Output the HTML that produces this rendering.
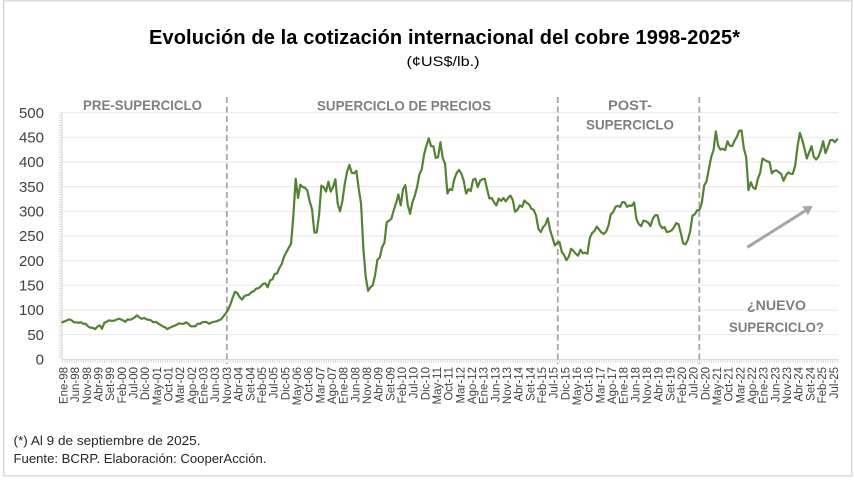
<!DOCTYPE html>
<html>
<head>
<meta charset="utf-8">
<style>
  html,body{margin:0;padding:0;background:#fff;}
  svg{display:block;}
  .yl{font-family:"Liberation Sans",sans-serif;font-size:15px;fill:#404040;text-anchor:end;}
  .xl{font-family:"Liberation Sans",sans-serif;font-size:11.5px;fill:#404040;text-anchor:end;}
  .sec{font-family:"Liberation Sans",sans-serif;font-size:14px;font-weight:bold;fill:#7f7f7f;}
</style>
</head>
<body>
<svg width="854" height="481" viewBox="0 0 854 481" xmlns="http://www.w3.org/2000/svg">
  <rect x="0" y="0" width="854" height="481" fill="#fff"/>
  <rect x="3.75" y="0.75" width="848" height="475" fill="#fff" stroke="#d9d9d9" stroke-width="1.5"/>

  <!-- Title -->
  <text x="149" y="44" textLength="591" lengthAdjust="spacing" font-family="Liberation Sans, sans-serif" font-size="20" font-weight="bold" fill="#000">Evolución de la cotización internacional del cobre 1998-2025*</text>
  <text x="406.5" y="66" textLength="73" lengthAdjust="spacingAndGlyphs" font-family="Liberation Sans, sans-serif" font-size="14" fill="#000">(¢US$/lb.)</text>

  <!-- Gridlines -->
  <g stroke="#ebebeb" stroke-width="1.2">
    <line x1="62" y1="112.6" x2="838.5" y2="112.6"/>
    <line x1="62" y1="137.3" x2="838.5" y2="137.3"/>
    <line x1="62" y1="162.0" x2="838.5" y2="162.0"/>
    <line x1="62" y1="186.6" x2="838.5" y2="186.6"/>
    <line x1="62" y1="211.3" x2="838.5" y2="211.3"/>
    <line x1="62" y1="236.0" x2="838.5" y2="236.0"/>
    <line x1="62" y1="260.6" x2="838.5" y2="260.6"/>
    <line x1="62" y1="285.3" x2="838.5" y2="285.3"/>
    <line x1="62" y1="310.0" x2="838.5" y2="310.0"/>
    <line x1="62" y1="334.6" x2="838.5" y2="334.6"/>
  </g>

  <!-- Axes -->
  <line x1="62" y1="112.6" x2="62" y2="359.5" stroke="#d9d9d9" stroke-width="1"/>
  <line x1="60.5" y1="112.6" x2="60.5" y2="359.5" stroke="#d9d9d9" stroke-width="3" stroke-dasharray="1 1.47"/>
  <line x1="62" y1="359.5" x2="838.5" y2="359.5" stroke="#d9d9d9" stroke-width="1"/>
  <line x1="62" y1="361.2" x2="838.5" y2="361.2" stroke="#d9d9d9" stroke-width="3" stroke-dasharray="1 1.334"/>

  <!-- Y labels -->
  <text class="yl" x="44" y="117.8">500</text>
  <text class="yl" x="44" y="142.5">450</text>
  <text class="yl" x="44" y="167.2">400</text>
  <text class="yl" x="44" y="191.8">350</text>
  <text class="yl" x="44" y="216.5">300</text>
  <text class="yl" x="44" y="241.2">250</text>
  <text class="yl" x="44" y="265.8">200</text>
  <text class="yl" x="44" y="290.5">150</text>
  <text class="yl" x="44" y="315.2">100</text>
  <text class="yl" x="44" y="339.8">50</text>
  <text class="yl" x="44" y="364.5">0</text>

  <!-- Dashed period separators -->
  <g stroke="#a6a6a6" stroke-width="1.8" stroke-dasharray="6 3.5">
    <line x1="226.8" y1="97" x2="226.8" y2="364"/>
    <line x1="557.8" y1="97" x2="557.8" y2="364"/>
    <line x1="699.3" y1="97" x2="699.3" y2="364"/>
  </g>

  <!-- Section labels -->
  <text class="sec" x="83" y="110" textLength="119" lengthAdjust="spacingAndGlyphs">PRE-SUPERCICLO</text>
  <text class="sec" x="317" y="110.5" textLength="174" lengthAdjust="spacingAndGlyphs">SUPERCICLO DE PRECIOS</text>
  <text class="sec" x="608" y="110" textLength="44" lengthAdjust="spacingAndGlyphs">POST-</text>
  <text class="sec" x="586" y="129.5" textLength="88" lengthAdjust="spacingAndGlyphs">SUPERCICLO</text>
  <text class="sec" x="747" y="310" textLength="59" lengthAdjust="spacingAndGlyphs">¿NUEVO</text>
  <text class="sec" x="729" y="332" textLength="95" lengthAdjust="spacingAndGlyphs">SUPERCICLO?</text>

  <!-- Arrow -->
  <line x1="747.3" y1="247.3" x2="806" y2="210.3" stroke="#a6a6a6" stroke-width="3"/>
  <polygon points="812.7,206 808,215.2 802.3,206.2" fill="#a6a6a6"/>

  <!-- Series -->
  <polyline transform="translate(62.3,359.3) scale(2.334,-0.4933)" vector-effect="non-scaling-stroke" fill="none" stroke="#548235" stroke-width="2.2" stroke-linejoin="round" stroke-linecap="round"
    points="0,75 1,77 2,79 3,81 4,79 5,75 6,75 7,74 8,75 9,72 10,72 11,67 12,64 13,64 14,61 15,66 16,69 17,62 18,74 19,76 20,79 21,78 22,78 23,80 24,82 25,81 26,79 27,76 28,81 29,80 30,82 31,85 32,89 33,85 34,82 35,84 36,81 37,80 38,79 39,75 40,76 41,73 42,70 43,67 44,65 45,61 46,64 47,66 48,68 49,70 50,73 51,72 52,72 53,75 54,72 55,67 56,67 57,67 58,72 59,72 60,75 61,76 62,75 63,72 64,75 65,76 66,77 67,79 68,81 69,87 70,93 71,100 72,111 73,125 74,137 75,134 76,126 77,121 78,128 79,130 80,131 81,136 82,138 83,143 84,144 85,148 86,153 87,154 88,146 89,160 90,162 91,173 92,174 93,185 94,193 95,208 96,217 97,226 98,234 99,291 100,366 101,327 102,354 103,349 104,348 105,342 106,320 107,304 108,257 109,257 110,292 111,352 112,349 113,340 114,360 115,340 116,349 117,365 118,315 119,300 120,321 121,355 122,380 123,394 124,378 125,377 126,382 127,346 128,316 129,224 130,167 131,139 132,146 133,150 134,170 135,202 136,206 137,227 138,236 139,278 140,281 141,285 142,302 143,317 144,334 145,312 146,345 147,353 148,313 149,295 150,318 151,331 152,349 153,375 154,385 155,415 156,433 157,448 158,432 159,432 160,408 161,410 162,440 163,408 164,396 165,336 166,345 167,343 168,366 169,378 170,384 171,376 172,362 173,336 174,345 175,341 176,364 177,366 178,349 179,362 180,365 181,366 182,345 183,326 184,327 185,318 186,312 187,326 188,321 189,327 190,320 191,327 192,332 193,323 194,299 195,303 196,312 197,309 198,322 199,317 200,314 201,305 202,303 203,291 204,264 205,258 206,268 207,273 208,286 209,262 210,247 211,231 212,236 213,238 214,218 215,211 216,201 217,208 218,224 219,220 220,214 221,210 222,222 223,215 224,216 225,214 226,246 227,256 228,260 229,269 230,263 231,257 232,254 233,259 234,271 235,294 236,298 237,309 238,311 239,309 240,319 241,318 242,309 243,312 244,311 245,318 246,284 247,274 248,270 249,281 250,280 251,277 252,270 253,285 254,292 255,292 256,273 257,266 258,268 259,258 260,259 261,261 262,267 263,276 264,274 265,256 266,235 267,233 268,242 269,259 270,291 271,294 272,302 273,303 274,317 275,352 276,361 277,385 278,410 279,423 280,462 281,433 282,425 283,427 284,424 285,442 286,433 287,432 288,443 289,451 290,463 291,464 292,428 293,410 294,343 295,359 296,348 297,345 298,366 299,378 300,407 301,404 302,401 303,400 304,377 305,382 306,383 307,379 308,376 309,362 310,372 311,379 312,376 313,376 314,393 315,431 316,459 317,445 318,427 319,407 320,420 321,432 322,410 323,405 324,411 325,424 326,442 327,418 328,430 329,444 330,445 331,440 332,446"/>

  <!-- X labels -->
  <g class="xl">
    <text class="xl" transform="translate(63.5,367) rotate(-90)" dy="0.35em">Ene-98</text>
    <text class="xl" transform="translate(75.17,367) rotate(-90)" dy="0.35em">Jun-98</text>
    <text class="xl" transform="translate(86.84,367) rotate(-90)" dy="0.35em">Nov-98</text>
    <text class="xl" transform="translate(98.51,367) rotate(-90)" dy="0.35em">Abr-99</text>
    <text class="xl" transform="translate(110.18,367) rotate(-90)" dy="0.35em">Set-99</text>
    <text class="xl" transform="translate(121.85,367) rotate(-90)" dy="0.35em">Feb-00</text>
    <text class="xl" transform="translate(133.52,367) rotate(-90)" dy="0.35em">Jul-00</text>
    <text class="xl" transform="translate(145.19,367) rotate(-90)" dy="0.35em">Dic-00</text>
    <text class="xl" transform="translate(156.86,367) rotate(-90)" dy="0.35em">May-01</text>
    <text class="xl" transform="translate(168.53,367) rotate(-90)" dy="0.35em">Oct-01</text>
    <text class="xl" transform="translate(180.2,367) rotate(-90)" dy="0.35em">Mar-02</text>
    <text class="xl" transform="translate(191.87,367) rotate(-90)" dy="0.35em">Ago-02</text>
    <text class="xl" transform="translate(203.54,367) rotate(-90)" dy="0.35em">Ene-03</text>
    <text class="xl" transform="translate(215.21,367) rotate(-90)" dy="0.35em">Jun-03</text>
    <text class="xl" transform="translate(226.88,367) rotate(-90)" dy="0.35em">Nov-03</text>
    <text class="xl" transform="translate(238.55,367) rotate(-90)" dy="0.35em">Abr-04</text>
    <text class="xl" transform="translate(250.22,367) rotate(-90)" dy="0.35em">Set-04</text>
    <text class="xl" transform="translate(261.89,367) rotate(-90)" dy="0.35em">Feb-05</text>
    <text class="xl" transform="translate(273.56,367) rotate(-90)" dy="0.35em">Jul-05</text>
    <text class="xl" transform="translate(285.23,367) rotate(-90)" dy="0.35em">Dic-05</text>
    <text class="xl" transform="translate(296.9,367) rotate(-90)" dy="0.35em">May-06</text>
    <text class="xl" transform="translate(308.57,367) rotate(-90)" dy="0.35em">Oct-06</text>
    <text class="xl" transform="translate(320.24,367) rotate(-90)" dy="0.35em">Mar-07</text>
    <text class="xl" transform="translate(331.91,367) rotate(-90)" dy="0.35em">Ago-07</text>
    <text class="xl" transform="translate(343.58,367) rotate(-90)" dy="0.35em">Ene-08</text>
    <text class="xl" transform="translate(355.25,367) rotate(-90)" dy="0.35em">Jun-08</text>
    <text class="xl" transform="translate(366.92,367) rotate(-90)" dy="0.35em">Nov-08</text>
    <text class="xl" transform="translate(378.59,367) rotate(-90)" dy="0.35em">Abr-09</text>
    <text class="xl" transform="translate(390.26,367) rotate(-90)" dy="0.35em">Set-09</text>
    <text class="xl" transform="translate(401.93,367) rotate(-90)" dy="0.35em">Feb-10</text>
    <text class="xl" transform="translate(413.6,367) rotate(-90)" dy="0.35em">Jul-10</text>
    <text class="xl" transform="translate(425.27,367) rotate(-90)" dy="0.35em">Dic-10</text>
    <text class="xl" transform="translate(436.94,367) rotate(-90)" dy="0.35em">May-11</text>
    <text class="xl" transform="translate(448.61,367) rotate(-90)" dy="0.35em">Oct-11</text>
    <text class="xl" transform="translate(460.28,367) rotate(-90)" dy="0.35em">Mar-12</text>
    <text class="xl" transform="translate(471.95,367) rotate(-90)" dy="0.35em">Ago-12</text>
    <text class="xl" transform="translate(483.62,367) rotate(-90)" dy="0.35em">Ene-13</text>
    <text class="xl" transform="translate(495.29,367) rotate(-90)" dy="0.35em">Jun-13</text>
    <text class="xl" transform="translate(506.96,367) rotate(-90)" dy="0.35em">Nov-13</text>
    <text class="xl" transform="translate(518.63,367) rotate(-90)" dy="0.35em">Abr-14</text>
    <text class="xl" transform="translate(530.3,367) rotate(-90)" dy="0.35em">Set-14</text>
    <text class="xl" transform="translate(541.97,367) rotate(-90)" dy="0.35em">Feb-15</text>
    <text class="xl" transform="translate(553.64,367) rotate(-90)" dy="0.35em">Jul-15</text>
    <text class="xl" transform="translate(565.31,367) rotate(-90)" dy="0.35em">Dic-15</text>
    <text class="xl" transform="translate(576.98,367) rotate(-90)" dy="0.35em">May-16</text>
    <text class="xl" transform="translate(588.65,367) rotate(-90)" dy="0.35em">Oct-16</text>
    <text class="xl" transform="translate(600.32,367) rotate(-90)" dy="0.35em">Mar-17</text>
    <text class="xl" transform="translate(611.99,367) rotate(-90)" dy="0.35em">Ago-17</text>
    <text class="xl" transform="translate(623.66,367) rotate(-90)" dy="0.35em">Ene-18</text>
    <text class="xl" transform="translate(635.33,367) rotate(-90)" dy="0.35em">Jun-18</text>
    <text class="xl" transform="translate(647,367) rotate(-90)" dy="0.35em">Nov-18</text>
    <text class="xl" transform="translate(658.67,367) rotate(-90)" dy="0.35em">Abr-19</text>
    <text class="xl" transform="translate(670.34,367) rotate(-90)" dy="0.35em">Set-19</text>
    <text class="xl" transform="translate(682.01,367) rotate(-90)" dy="0.35em">Feb-20</text>
    <text class="xl" transform="translate(693.68,367) rotate(-90)" dy="0.35em">Jul-20</text>
    <text class="xl" transform="translate(705.35,367) rotate(-90)" dy="0.35em">Dic-20</text>
    <text class="xl" transform="translate(717.02,367) rotate(-90)" dy="0.35em">May-21</text>
    <text class="xl" transform="translate(728.69,367) rotate(-90)" dy="0.35em">Oct-21</text>
    <text class="xl" transform="translate(740.36,367) rotate(-90)" dy="0.35em">Mar-22</text>
    <text class="xl" transform="translate(752.03,367) rotate(-90)" dy="0.35em">Ago-22</text>
    <text class="xl" transform="translate(763.7,367) rotate(-90)" dy="0.35em">Ene-23</text>
    <text class="xl" transform="translate(775.37,367) rotate(-90)" dy="0.35em">Jun-23</text>
    <text class="xl" transform="translate(787.04,367) rotate(-90)" dy="0.35em">Nov-23</text>
    <text class="xl" transform="translate(798.71,367) rotate(-90)" dy="0.35em">Abr-24</text>
    <text class="xl" transform="translate(810.38,367) rotate(-90)" dy="0.35em">Set-24</text>
    <text class="xl" transform="translate(822.05,367) rotate(-90)" dy="0.35em">Feb-25</text>
    <text class="xl" transform="translate(833.72,367) rotate(-90)" dy="0.35em">Jul-25</text>
  </g>

  <!-- Footnotes -->
  <text x="13.5" y="445" textLength="187" lengthAdjust="spacingAndGlyphs" font-family="Liberation Sans, sans-serif" font-size="12.5" fill="#262626">(*) Al 9 de septiembre de 2025.</text>
  <text x="13.5" y="463" textLength="253" lengthAdjust="spacingAndGlyphs" font-family="Liberation Sans, sans-serif" font-size="12.5" fill="#262626">Fuente: BCRP. Elaboración: CooperAcción.</text>
</svg>
</body>
</html>
